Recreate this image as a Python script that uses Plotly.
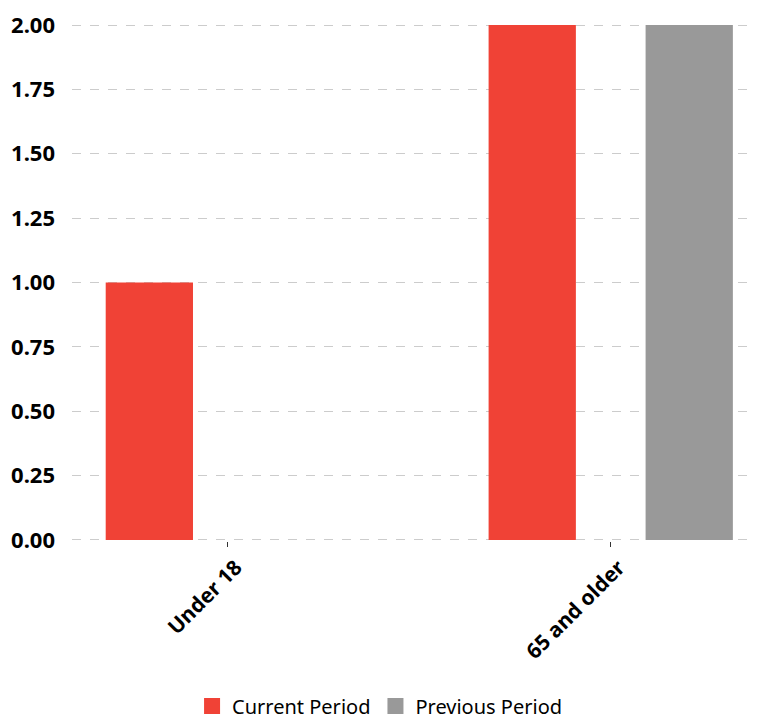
import plotly.graph_objects as go

categories = ["Under 18", "65 and older"]
current_period = [1, 2]
previous_period = [0, 2]

FONT = "Noto Sans"
RED = "#F04236"
GREY = "#999999"

fig = go.Figure()
fig.add_trace(go.Bar(name="Current Period", x=categories, y=current_period,
                     marker=dict(color=RED, line=dict(width=0)), showlegend=False))
fig.add_trace(go.Bar(name="Previous Period", x=categories, y=previous_period,
                     marker=dict(color=GREY, line=dict(width=0)), showlegend=False))
# legend entries with large square swatches
fig.add_trace(go.Scatter(name="Current Period", x=[None], y=[None], mode="markers",
                         marker=dict(symbol="square", size=21, color=RED), showlegend=True))
fig.add_trace(go.Scatter(name="Previous Period", x=[None], y=[None], mode="markers",
                         marker=dict(symbol="square", size=21, color=GREY), showlegend=True))

fig.update_layout(
    width=764, height=745,
    margin=dict(l=64, r=15, t=16, b=212),
    paper_bgcolor="white", plot_bgcolor="white",
    barmode="group", bargap=0.18, bargroupgap=0.444,
    font=dict(family=FONT, color="#000000"),
    showlegend=True,
    legend=dict(orientation="h", x=0.449, xanchor="center", y=-0.319, yanchor="middle",
                font=dict(family=FONT, size=20, color="#000000"),
                itemsizing="trace", traceorder="normal"),
    xaxis=dict(
        range=[-0.407, 1.382], automargin=False,
        showgrid=False, zeroline=False, showline=False,
        ticks="outside", ticklen=5, tickcolor="#333333", tickwidth=1,
        tickangle=-45, ticklabelshift=8,
        tickfont=dict(family=FONT, size=21, color="#000000", weight="bold"),
    ),
    yaxis=dict(
        range=[-0.004, 2.004], automargin=False,
        tickvals=[0, 0.25, 0.5, 0.75, 1, 1.25, 1.5, 1.75, 2],
        tickformat=".2f",
        showgrid=True, gridcolor="#CCCCCC", griddash="dash", gridwidth=1,
        zeroline=False, showline=False,
        ticks="", ticklabelstandoff=16,
        tickfont=dict(family=FONT, size=22, color="#000000", weight="bold"),
    ),
)

fig.write_html("out.html")
